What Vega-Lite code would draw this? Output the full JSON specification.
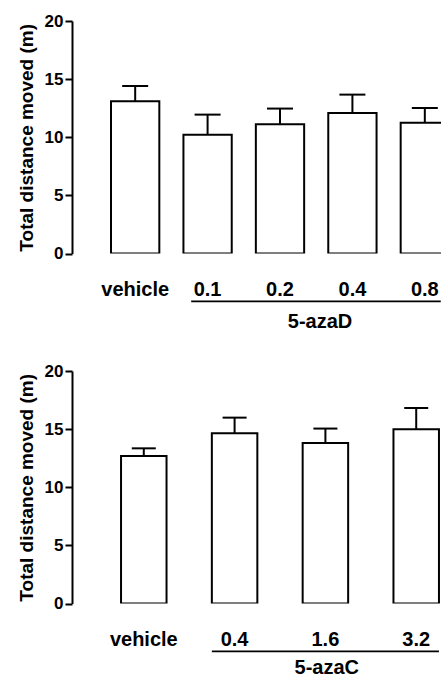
{
  "$schema": "https://vega.github.io/schema/vega-lite/v6.json",
  "padding": {"left": 17, "top": 12, "right": 0, "bottom": 0},
  "background": "white",
  "spacing": 29,
  "config": {
    "view": {"stroke": null},
    "font": "Liberation Sans",
    "axisY": {
      "grid": false, "domainColor": "black", "domainWidth": 2, "tickColor": "black", "tickWidth": 2, "tickSize": 7,
      "labelFontSize": 17, "labelFontWeight": "bold", "labelColor": "black", "labelPadding": 2,
      "titleFontSize": 19, "titleFontWeight": "bold", "titleColor": "black", "titlePadding": 8
    },
    "axisX": {
      "grid": false, "domain": false, "ticks": false, "labelAngle": 0, "labelPadding": 26,
      "labelFontSize": 20, "labelFontWeight": "bold", "labelColor": "black", "title": null
    }
  },
  "datasets": {
    "azaD": [
      {"dose": "vehicle", "mean": 13.1, "upper": 14.41},
      {"dose": "0.1", "mean": 10.23, "upper": 11.95},
      {"dose": "0.2", "mean": 11.12, "upper": 12.47},
      {"dose": "0.4", "mean": 12.09, "upper": 13.67},
      {"dose": "0.8", "mean": 11.26, "upper": 12.52}
    ],
    "azaC": [
      {"dose": "vehicle", "mean": 12.69, "upper": 13.35},
      {"dose": "0.4", "mean": 14.64, "upper": 15.99},
      {"dose": "1.6", "mean": 13.81, "upper": 15.05},
      {"dose": "3.2", "mean": 14.99, "upper": 16.82}
    ],
    "groupD": [{"label": "5-azaD", "from": "0.1", "to": "0.8", "at": "0.4"}],
    "groupC": [{"label": "5-azaC", "from": "0.4", "to": "3.2", "at": "1.6"}]
  },
  "vconcat": [
    {
      "width": 369,
      "height": 232.6,
      "layer": [
        {
          "data": {"name": "azaD"},
          "mark": {"type": "bar", "fill": "white", "stroke": "black", "strokeWidth": 2, "clip": true},
          "encoding": {
            "x": {"field": "dose", "type": "nominal",
                  "scale": {"domain": ["vehicle", "0.1", "0.2", "0.4", "0.8"], "range": [0, 416], "paddingInner": 0.333, "paddingOuter": 0.539}},
            "y": {"field": "mean", "type": "quantitative",
                  "scale": {"domain": [0, 20], "nice": false},
                  "axis": {"title": "Total distance moved (m)", "values": [0, 5, 10, 15, 20]}}
          }
        },
        {
          "data": {"name": "azaD"},
          "mark": {"type": "rule", "strokeWidth": 2, "color": "black"},
          "encoding": {
            "x": {"field": "dose", "type": "nominal"},
            "y": {"field": "mean", "type": "quantitative"},
            "y2": {"field": "upper"}
          }
        },
        {
          "data": {"name": "azaD"},
          "mark": {"type": "tick", "orient": "horizontal", "size": 26, "thickness": 2, "color": "black", "opacity": 1},
          "encoding": {
            "x": {"field": "dose", "type": "nominal"},
            "y": {"field": "upper", "type": "quantitative"}
          }
        },
        {
          "data": {"name": "groupD"},
          "mark": {"type": "rule", "strokeWidth": 1.7, "color": "black"},
          "encoding": {
            "x": {"field": "from", "type": "nominal", "bandPosition": 0.16},
            "x2": {"field": "to", "bandPosition": 0.83},
            "y": {"datum": -4.1, "type": "quantitative"}
          }
        },
        {
          "data": {"name": "groupD"},
          "mark": {"type": "text", "fontSize": 20, "fontWeight": "bold", "color": "black", "baseline": "middle"},
          "encoding": {
            "x": {"field": "at", "type": "nominal", "bandPosition": -0.17},
            "y": {"datum": -5.9, "type": "quantitative"},
            "text": {"field": "label"}
          }
        }
      ]
    },
    {
      "width": 369,
      "height": 232.6,
      "layer": [
        {
          "data": {"name": "azaC"},
          "mark": {"type": "bar", "fill": "white", "stroke": "black", "strokeWidth": 2, "clip": true},
          "encoding": {
            "x": {"field": "dose", "type": "nominal",
                  "scale": {"domain": ["vehicle", "0.4", "1.6", "3.2"], "range": [0, 416], "paddingInner": 0.499, "paddingOuter": 0.54}},
            "y": {"field": "mean", "type": "quantitative",
                  "scale": {"domain": [0, 20], "nice": false},
                  "axis": {"title": "Total distance moved (m)", "values": [0, 5, 10, 15, 20]}}
          }
        },
        {
          "data": {"name": "azaC"},
          "mark": {"type": "rule", "strokeWidth": 2, "color": "black"},
          "encoding": {
            "x": {"field": "dose", "type": "nominal"},
            "y": {"field": "mean", "type": "quantitative"},
            "y2": {"field": "upper"}
          }
        },
        {
          "data": {"name": "azaC"},
          "mark": {"type": "tick", "orient": "horizontal", "size": 24, "thickness": 2, "color": "black", "opacity": 1},
          "encoding": {
            "x": {"field": "dose", "type": "nominal"},
            "y": {"field": "upper", "type": "quantitative"}
          }
        },
        {
          "data": {"name": "groupC"},
          "mark": {"type": "rule", "strokeWidth": 1.7, "color": "black"},
          "encoding": {
            "x": {"field": "from", "type": "nominal", "bandPosition": 0},
            "x2": {"field": "to", "bandPosition": 1},
            "y": {"datum": -4.1, "type": "quantitative"}
          }
        },
        {
          "data": {"name": "groupC"},
          "mark": {"type": "text", "fontSize": 20, "fontWeight": "bold", "color": "black", "baseline": "middle"},
          "encoding": {
            "x": {"field": "at", "type": "nominal", "bandPosition": 0.53},
            "y": {"datum": -5.55, "type": "quantitative"},
            "text": {"field": "label"}
          }
        }
      ]
    }
  ]
}
